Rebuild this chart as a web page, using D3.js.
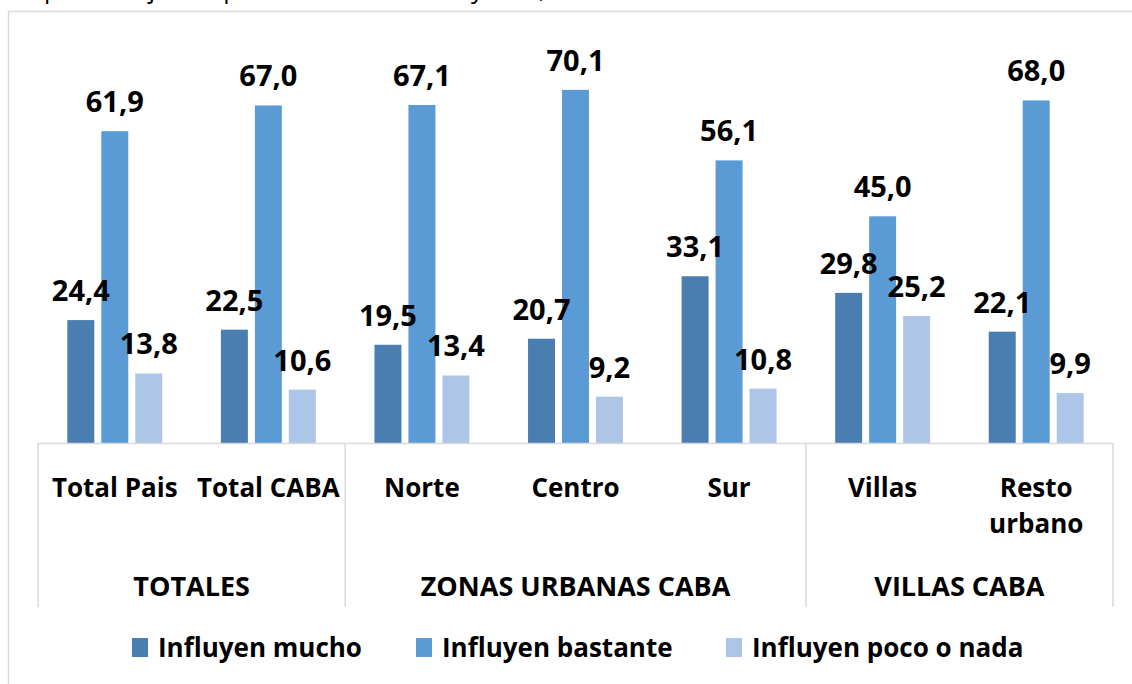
<!DOCTYPE html>
<meta charset="utf-8">
<style>
body { margin: 0; background: #fff; }
text { font-family: "Open Sans", sans-serif; fill: #000; }
.lbl { font-weight: bold; font-size: 29px; }
.cat { font-weight: bold; font-size: 26px; }
.grp { font-weight: bold; font-size: 27px; }
.leg { font-weight: bold; font-size: 26px; }
</style>
<svg width="1132" height="684"></svg>
<script src="https://cdn.jsdelivr.net/npm/d3@7"></script>
<script>

var categories = ["Total Pais", "Total CABA", "Norte", "Centro", "Sur", "Villas", "Resto urbano"];
var groups = [
  {name: "TOTALES", first: 0, last: 1},
  {name: "ZONAS URBANAS CABA", first: 2, last: 4},
  {name: "VILLAS CABA", first: 5, last: 6}
];
var seriesNames = ["Influyen mucho", "Influyen bastante", "Influyen poco o nada"];
var mucho    = [24.4, 22.5, 19.5, 20.7, 33.1, 29.8, 22.1];
var bastante = [61.9, 67.0, 67.1, 70.1, 56.1, 45.0, 68.0];
var poco     = [13.8, 10.6, 13.4,  9.2, 10.8, 25.2,  9.9];
var colors = ["#4a7db0", "#5b9bd5", "#adc5e6"];

var values = [mucho, bastante, poco];

var svg = d3.select("svg");

// outer frame (cut off by the window like the source picture)
svg.append("rect")
    .attr("x", 8.5).attr("y", 11.5)
    .attr("width", 1140).attr("height", 700)
    .attr("fill", "none")
    .attr("stroke", "#d9d9d9")
    .attr("stroke-width", 1.5);

// title, mostly above the visible area
svg.append("text")
    .attr("x", 44).attr("y", -2)
    .style("font-size", "25px")
    .text("porcentajes de personas de 18 años y más, %");

var x = d3.scaleBand().domain(categories).range([38, 1113]);
var xs = d3.scaleBand().domain(seriesNames).range([0, x.bandwidth()])
    .paddingInner(0.206).paddingOuter(0.863);
var y = d3.scaleLinear().domain([0, 80]).range([443, 40]);

var fmt = function(v) { return d3.format(".1f")(v).replace(".", ","); };

var data = [];
categories.forEach(function(c, i) {
  seriesNames.forEach(function(s, j) {
    data.push({cat: c, serie: s, idx: j, value: values[j][i]});
  });
});

var g = svg.append("g");

g.selectAll(".bar")
  .data(data)
  .enter().append("rect")
    .attr("class", "bar")
    .attr("x", function(d) { return x(d.cat) + xs(d.serie); })
    .attr("y", function(d) { return y(d.value); })
    .attr("width", xs.bandwidth())
    .attr("height", function(d) { return y(0) - y(d.value); })
    .attr("fill", function(d) { return colors[d.idx]; });

g.selectAll(".lbl")
  .data(data)
  .enter().append("text")
    .attr("class", "lbl")
    .attr("x", function(d) { return x(d.cat) + xs(d.serie) + xs.bandwidth() / 2; })
    .attr("y", function(d) { return y(d.value) - 19; })
    .attr("text-anchor", "middle")
    .text(function(d) { return fmt(d.value); });

// axis line
svg.append("line")
    .attr("x1", x.range()[0]).attr("x2", x.range()[1])
    .attr("y1", y(0) + 0.5).attr("y2", y(0) + 0.5)
    .attr("stroke", "#d9d9d9").attr("stroke-width", 1.5);

// group boundaries
var bounds = [0].concat(groups.map(function(gr) { return gr.last + 1; }));
svg.selectAll(".sep")
  .data(bounds)
  .enter().append("line")
    .attr("x1", function(b) { return x.range()[0] + b * x.step(); })
    .attr("x2", function(b) { return x.range()[0] + b * x.step(); })
    .attr("y1", y(0)).attr("y2", 607)
    .attr("stroke", "#d9d9d9").attr("stroke-width", 1.5);

// category labels
svg.selectAll(".cat")
  .data(categories)
  .enter().append("text")
    .attr("class", "cat")
    .attr("text-anchor", "middle")
    .attr("x", function(c) { return x(c) + x.bandwidth() / 2; })
    .attr("y", 497)
    .each(function(c) {
      var words = c === "Resto urbano" ? ["Resto", "urbano"] : [c];
      var t = d3.select(this);
      words.forEach(function(w, k) {
        t.append("tspan")
          .attr("x", x(c) + x.bandwidth() / 2)
          .attr("dy", k === 0 ? 0 : 36)
          .text(w);
      });
    });

// group labels
svg.selectAll(".grp")
  .data(groups)
  .enter().append("text")
    .attr("class", "grp")
    .attr("text-anchor", "middle")
    .attr("x", function(gr) { return x.range()[0] + (gr.first + gr.last + 1) / 2 * x.step(); })
    .attr("y", 596)
    .text(function(gr) { return gr.name; });

// legend
var legX = [132, 416, 726];
var leg = svg.selectAll(".legitem")
  .data(seriesNames)
  .enter().append("g")
    .attr("transform", function(s, i) { return "translate(" + legX[i] + ",638)"; });
leg.append("rect")
    .attr("width", 16).attr("height", 19)
    .attr("fill", function(s, i) { return colors[i]; });
leg.append("text")
    .attr("class", "leg")
    .attr("x", 26).attr("y", 19)
    .text(function(s) { return s; });

</script>
